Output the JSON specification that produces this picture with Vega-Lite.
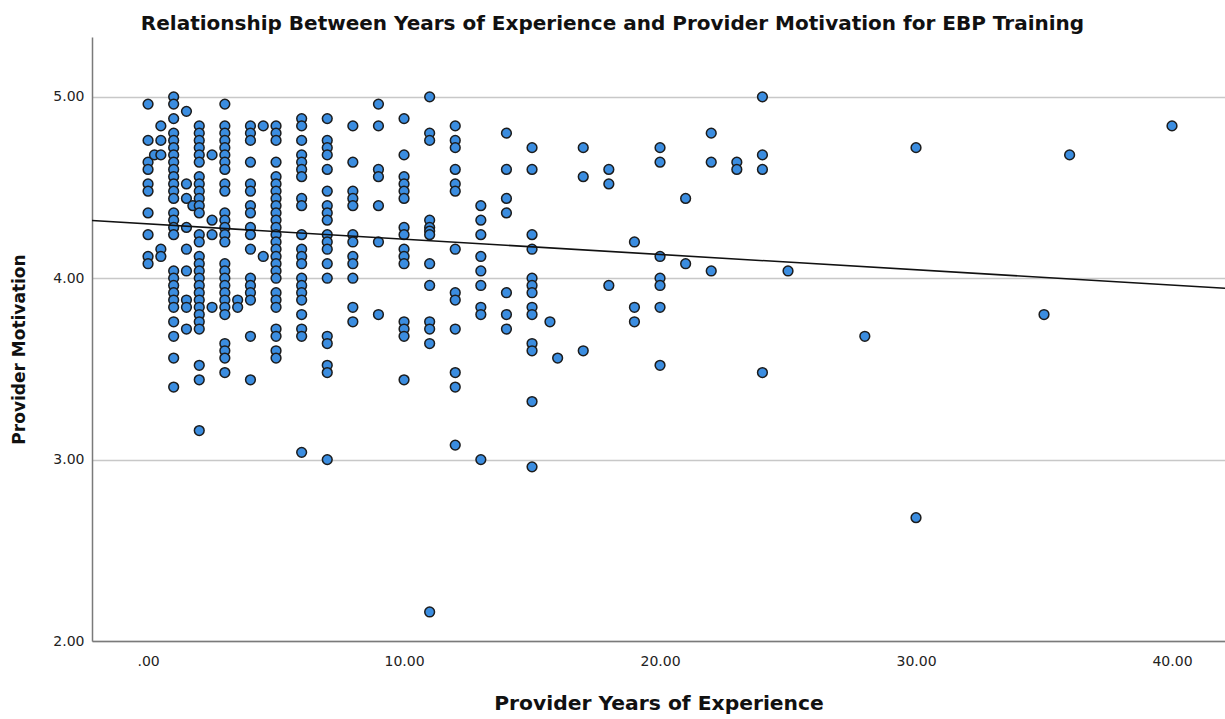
{
  "$schema": "https://vega.github.io/schema/vega-lite/v6.json",
  "autosize": "none",
  "width": 1133,
  "height": 604,
  "padding": {"left": 92, "top": 37, "right": 0, "bottom": 78},
  "background": "white",
  "config": {
    "font": "DejaVu Sans",
    "view": {"stroke": null}
  },
  "title": {
    "text": "Relationship Between Years of Experience and Provider Motivation for EBP Training",
    "font": "DejaVu Sans",
    "fontSize": 20,
    "fontWeight": "bold",
    "color": "#111",
    "anchor": "middle",
    "frame": "group",
    "dx": -46,
    "dy": 21,
    "baseline": "alphabetic",
    "offset": 8
  },
  "datasets": {
    "pts": [
      {"years":0,"motivation":4.96},{"years":0,"motivation":4.76},{"years":0,"motivation":4.64},{"years":0,"motivation":4.60},{"years":0,"motivation":4.52},{"years":0,"motivation":4.48},{"years":0,"motivation":4.36},{"years":0,"motivation":4.24},{"years":0,"motivation":4.12},{"years":0,"motivation":4.08},
      {"years":0.25,"motivation":4.68},
      {"years":0.5,"motivation":4.84},{"years":0.5,"motivation":4.76},{"years":0.5,"motivation":4.68},{"years":0.5,"motivation":4.16},{"years":0.5,"motivation":4.12},
      {"years":1,"motivation":5.00},{"years":1,"motivation":4.96},{"years":1,"motivation":4.88},{"years":1,"motivation":4.80},{"years":1,"motivation":4.76},{"years":1,"motivation":4.72},{"years":1,"motivation":4.68},{"years":1,"motivation":4.64},{"years":1,"motivation":4.60},{"years":1,"motivation":4.56},{"years":1,"motivation":4.52},{"years":1,"motivation":4.48},{"years":1,"motivation":4.44},{"years":1,"motivation":4.36},{"years":1,"motivation":4.32},{"years":1,"motivation":4.28},{"years":1,"motivation":4.24},{"years":1,"motivation":4.04},{"years":1,"motivation":4.00},{"years":1,"motivation":3.96},{"years":1,"motivation":3.92},{"years":1,"motivation":3.88},{"years":1,"motivation":3.84},{"years":1,"motivation":3.76},{"years":1,"motivation":3.68},{"years":1,"motivation":3.56},{"years":1,"motivation":3.40},
      {"years":1.5,"motivation":4.92},{"years":1.5,"motivation":4.52},{"years":1.5,"motivation":4.44},{"years":1.5,"motivation":4.28},{"years":1.5,"motivation":4.16},{"years":1.5,"motivation":4.04},{"years":1.5,"motivation":3.88},{"years":1.5,"motivation":3.84},{"years":1.5,"motivation":3.72},
      {"years":1.75,"motivation":4.40},
      {"years":2,"motivation":4.84},{"years":2,"motivation":4.80},{"years":2,"motivation":4.76},{"years":2,"motivation":4.72},{"years":2,"motivation":4.68},{"years":2,"motivation":4.64},{"years":2,"motivation":4.56},{"years":2,"motivation":4.52},{"years":2,"motivation":4.48},{"years":2,"motivation":4.44},{"years":2,"motivation":4.40},{"years":2,"motivation":4.36},{"years":2,"motivation":4.24},{"years":2,"motivation":4.20},{"years":2,"motivation":4.12},{"years":2,"motivation":4.08},{"years":2,"motivation":4.04},{"years":2,"motivation":4.00},{"years":2,"motivation":3.96},{"years":2,"motivation":3.92},{"years":2,"motivation":3.88},{"years":2,"motivation":3.84},{"years":2,"motivation":3.80},{"years":2,"motivation":3.76},{"years":2,"motivation":3.72},{"years":2,"motivation":3.52},{"years":2,"motivation":3.44},{"years":2,"motivation":3.16},
      {"years":2.5,"motivation":4.68},{"years":2.5,"motivation":4.32},{"years":2.5,"motivation":4.24},{"years":2.5,"motivation":3.84},
      {"years":3,"motivation":4.96},{"years":3,"motivation":4.84},{"years":3,"motivation":4.80},{"years":3,"motivation":4.76},{"years":3,"motivation":4.72},{"years":3,"motivation":4.68},{"years":3,"motivation":4.64},{"years":3,"motivation":4.60},{"years":3,"motivation":4.52},{"years":3,"motivation":4.48},{"years":3,"motivation":4.36},{"years":3,"motivation":4.32},{"years":3,"motivation":4.28},{"years":3,"motivation":4.24},{"years":3,"motivation":4.20},{"years":3,"motivation":4.08},{"years":3,"motivation":4.04},{"years":3,"motivation":4.00},{"years":3,"motivation":3.96},{"years":3,"motivation":3.92},{"years":3,"motivation":3.88},{"years":3,"motivation":3.84},{"years":3,"motivation":3.80},{"years":3,"motivation":3.64},{"years":3,"motivation":3.60},{"years":3,"motivation":3.56},{"years":3,"motivation":3.48},
      {"years":3.5,"motivation":3.88},{"years":3.5,"motivation":3.84},
      {"years":4,"motivation":4.84},{"years":4,"motivation":4.80},{"years":4,"motivation":4.76},{"years":4,"motivation":4.64},{"years":4,"motivation":4.52},{"years":4,"motivation":4.48},{"years":4,"motivation":4.40},{"years":4,"motivation":4.36},{"years":4,"motivation":4.28},{"years":4,"motivation":4.24},{"years":4,"motivation":4.16},{"years":4,"motivation":4.00},{"years":4,"motivation":3.96},{"years":4,"motivation":3.92},{"years":4,"motivation":3.88},{"years":4,"motivation":3.68},{"years":4,"motivation":3.44},
      {"years":4.5,"motivation":4.84},{"years":4.5,"motivation":4.12},
      {"years":5,"motivation":4.84},{"years":5,"motivation":4.80},{"years":5,"motivation":4.76},{"years":5,"motivation":4.64},{"years":5,"motivation":4.56},{"years":5,"motivation":4.52},{"years":5,"motivation":4.48},{"years":5,"motivation":4.44},{"years":5,"motivation":4.40},{"years":5,"motivation":4.36},{"years":5,"motivation":4.32},{"years":5,"motivation":4.28},{"years":5,"motivation":4.24},{"years":5,"motivation":4.20},{"years":5,"motivation":4.16},{"years":5,"motivation":4.12},{"years":5,"motivation":4.08},{"years":5,"motivation":4.04},{"years":5,"motivation":4.00},{"years":5,"motivation":3.92},{"years":5,"motivation":3.88},{"years":5,"motivation":3.84},{"years":5,"motivation":3.72},{"years":5,"motivation":3.68},{"years":5,"motivation":3.60},{"years":5,"motivation":3.56},
      {"years":6,"motivation":4.88},{"years":6,"motivation":4.84},{"years":6,"motivation":4.76},{"years":6,"motivation":4.68},{"years":6,"motivation":4.64},{"years":6,"motivation":4.60},{"years":6,"motivation":4.56},{"years":6,"motivation":4.44},{"years":6,"motivation":4.40},{"years":6,"motivation":4.24},{"years":6,"motivation":4.16},{"years":6,"motivation":4.12},{"years":6,"motivation":4.08},{"years":6,"motivation":4.00},{"years":6,"motivation":3.96},{"years":6,"motivation":3.92},{"years":6,"motivation":3.88},{"years":6,"motivation":3.80},{"years":6,"motivation":3.72},{"years":6,"motivation":3.68},{"years":6,"motivation":3.04},
      {"years":7,"motivation":4.88},{"years":7,"motivation":4.76},{"years":7,"motivation":4.72},{"years":7,"motivation":4.68},{"years":7,"motivation":4.60},{"years":7,"motivation":4.48},{"years":7,"motivation":4.40},{"years":7,"motivation":4.36},{"years":7,"motivation":4.32},{"years":7,"motivation":4.24},{"years":7,"motivation":4.20},{"years":7,"motivation":4.16},{"years":7,"motivation":4.08},{"years":7,"motivation":4.00},{"years":7,"motivation":3.68},{"years":7,"motivation":3.64},{"years":7,"motivation":3.52},{"years":7,"motivation":3.48},{"years":7,"motivation":3.00},
      {"years":8,"motivation":4.84},{"years":8,"motivation":4.64},{"years":8,"motivation":4.48},{"years":8,"motivation":4.44},{"years":8,"motivation":4.40},{"years":8,"motivation":4.24},{"years":8,"motivation":4.20},{"years":8,"motivation":4.12},{"years":8,"motivation":4.08},{"years":8,"motivation":4.00},{"years":8,"motivation":3.84},{"years":8,"motivation":3.76},
      {"years":9,"motivation":4.96},{"years":9,"motivation":4.84},{"years":9,"motivation":4.60},{"years":9,"motivation":4.56},{"years":9,"motivation":4.40},{"years":9,"motivation":4.20},{"years":9,"motivation":3.80},
      {"years":10,"motivation":4.88},{"years":10,"motivation":4.68},{"years":10,"motivation":4.56},{"years":10,"motivation":4.52},{"years":10,"motivation":4.48},{"years":10,"motivation":4.44},{"years":10,"motivation":4.28},{"years":10,"motivation":4.24},{"years":10,"motivation":4.16},{"years":10,"motivation":4.12},{"years":10,"motivation":4.08},{"years":10,"motivation":3.76},{"years":10,"motivation":3.72},{"years":10,"motivation":3.68},{"years":10,"motivation":3.44},
      {"years":11,"motivation":5.00},{"years":11,"motivation":4.80},{"years":11,"motivation":4.76},{"years":11,"motivation":4.32},{"years":11,"motivation":4.28},{"years":11,"motivation":4.26},{"years":11,"motivation":4.24},{"years":11,"motivation":4.08},{"years":11,"motivation":3.96},{"years":11,"motivation":3.76},{"years":11,"motivation":3.72},{"years":11,"motivation":3.64},{"years":11,"motivation":2.16},
      {"years":12,"motivation":4.84},{"years":12,"motivation":4.76},{"years":12,"motivation":4.72},{"years":12,"motivation":4.60},{"years":12,"motivation":4.52},{"years":12,"motivation":4.48},{"years":12,"motivation":4.16},{"years":12,"motivation":3.92},{"years":12,"motivation":3.88},{"years":12,"motivation":3.72},{"years":12,"motivation":3.48},{"years":12,"motivation":3.40},{"years":12,"motivation":3.08},
      {"years":13,"motivation":4.40},{"years":13,"motivation":4.32},{"years":13,"motivation":4.24},{"years":13,"motivation":4.12},{"years":13,"motivation":4.04},{"years":13,"motivation":3.96},{"years":13,"motivation":3.84},{"years":13,"motivation":3.80},{"years":13,"motivation":3.00},
      {"years":14,"motivation":4.80},{"years":14,"motivation":4.60},{"years":14,"motivation":4.44},{"years":14,"motivation":4.36},{"years":14,"motivation":3.92},{"years":14,"motivation":3.80},{"years":14,"motivation":3.72},
      {"years":15,"motivation":4.72},{"years":15,"motivation":4.60},{"years":15,"motivation":4.24},{"years":15,"motivation":4.16},{"years":15,"motivation":4.00},{"years":15,"motivation":3.96},{"years":15,"motivation":3.92},{"years":15,"motivation":3.84},{"years":15,"motivation":3.80},{"years":15,"motivation":3.64},{"years":15,"motivation":3.60},{"years":15,"motivation":3.32},{"years":15,"motivation":2.96},
      {"years":15.7,"motivation":3.76},{"years":16,"motivation":3.56},
      {"years":17,"motivation":4.72},{"years":17,"motivation":4.56},{"years":17,"motivation":3.60},
      {"years":18,"motivation":4.60},{"years":18,"motivation":4.52},{"years":18,"motivation":3.96},
      {"years":19,"motivation":4.20},{"years":19,"motivation":3.84},{"years":19,"motivation":3.76},
      {"years":20,"motivation":4.72},{"years":20,"motivation":4.64},{"years":20,"motivation":4.12},{"years":20,"motivation":4.00},{"years":20,"motivation":3.96},{"years":20,"motivation":3.84},{"years":20,"motivation":3.52},
      {"years":21,"motivation":4.44},{"years":21,"motivation":4.08},
      {"years":22,"motivation":4.80},{"years":22,"motivation":4.64},{"years":22,"motivation":4.04},
      {"years":23,"motivation":4.64},{"years":23,"motivation":4.60},
      {"years":24,"motivation":5.00},{"years":24,"motivation":4.68},{"years":24,"motivation":4.60},{"years":24,"motivation":3.48},
      {"years":25,"motivation":4.04},
      {"years":28,"motivation":3.68},
      {"years":30,"motivation":4.72},{"years":30,"motivation":2.68},
      {"years":35,"motivation":3.80},
      {"years":36,"motivation":4.68},
      {"years":40,"motivation":4.84}
    ],
    "fit": [
      {"years":-2.19,"motivation":4.318},
      {"years":42.07,"motivation":3.945}
    ]
  },
  "layer": [
    {
      "data": {"name": "pts"},
      "mark": {"type": "point", "shape": "circle", "filled": true, "size": 95, "fill": "#3b8de0", "stroke": "#1c1c1c", "strokeWidth": 1.5, "opacity": 1},
      "encoding": {
        "x": {
          "field": "years", "type": "quantitative",
          "scale": {"domain": [-2.19, 42.07], "nice": false, "zero": false},
          "axis": {
            "title": "Provider Years of Experience",
            "titleFont": "DejaVu Sans",
            "titleFontSize": 20.3, "titleFontWeight": "bold", "titleColor": "#111", "titlePadding": 25,
            "values": [0, 10, 20, 30, 40],
            "labelExpr": "datum.value == 0 ? '.00' : format(datum.value, '.2f')",
            "labelFont": "DejaVu Sans",
            "labelFontSize": 14, "labelColor": "#222", "labelPadding": 13,
            "ticks": false, "grid": false,
            "domainColor": "#7a7a7a", "domainWidth": 1.5
          }
        },
        "y": {
          "field": "motivation", "type": "quantitative",
          "scale": {"domain": [2, 5.33], "nice": false, "zero": false},
          "axis": {
            "title": "Provider Motivation",
            "titleFont": "DejaVu Sans",
            "titleFontSize": 17, "titleFontWeight": "bold", "titleColor": "#111", "titlePadding": 24,
            "titleY": 312,
            "values": [2, 3, 4, 5],
            "format": ".2f",
            "labelFont": "DejaVu Sans",
            "labelFontSize": 14, "labelColor": "#222", "labelPadding": 8,
            "ticks": false,
            "grid": true, "gridColor": "#c8c8c8", "gridWidth": 1.5,
            "domainColor": "#7a7a7a", "domainWidth": 1.5
          }
        }
      }
    },
    {
      "data": {"name": "fit"},
      "mark": {"type": "line", "color": "#111", "strokeWidth": 1.6, "clip": true},
      "encoding": {
        "x": {"field": "years", "type": "quantitative"},
        "y": {"field": "motivation", "type": "quantitative"}
      }
    }
  ]
}
